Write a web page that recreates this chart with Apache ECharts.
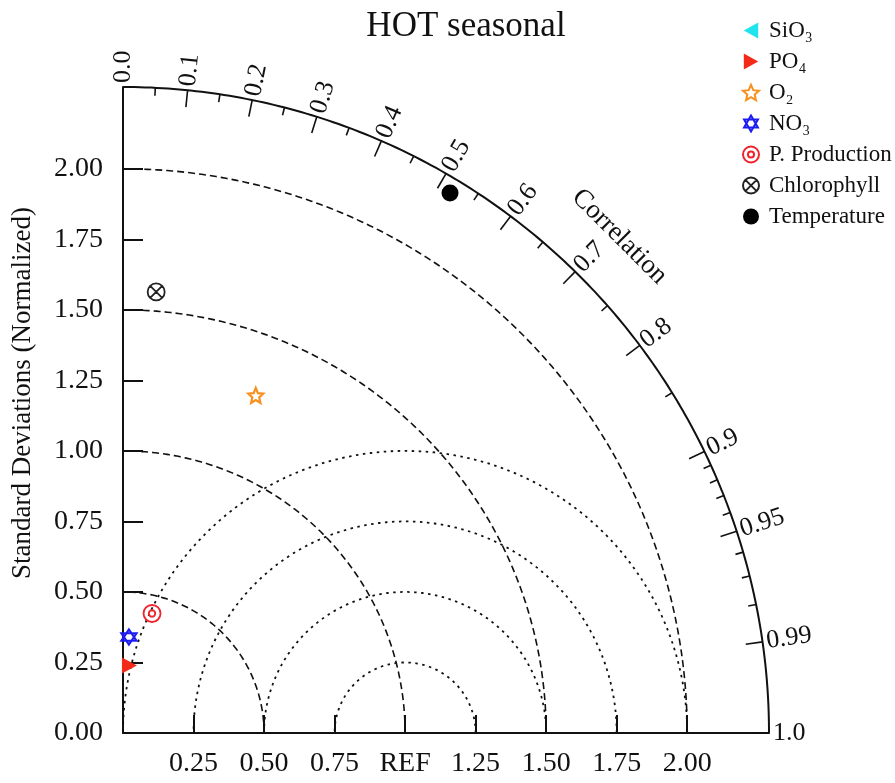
<!DOCTYPE html>
<html>
<head>
<meta charset="utf-8">
<title>HOT seasonal</title>
<script src="https://cdn.jsdelivr.net/npm/echarts@6/dist/echarts.min.js"></script>
<style>
  html, body { margin: 0; padding: 0; background: #fff; }
  #chart { width: 895px; height: 783px; }
</style>
</head>
<body>
<div id="chart"></div>
<script>
// Taylor diagram data (std normalised to REF = 1)
var RMAX = 2.29;
var refStd = 1.0;
var seriesNames = ['SiO\u2083', 'PO\u2084', 'O\u2082', 'NO\u2083', 'P. Production', 'Chlorophyll', 'Temperature'];
var stdDev = [null, 0.24, 1.286, 0.341, 0.436, 1.568, 2.238];
var correlation = [null, 0.095, 0.366, 0.062, 0.236, 0.075, 0.518];

var stdTicks = [0, 0.25, 0.5, 0.75, 1.0, 1.25, 1.5, 1.75, 2.0];
var stdArcs = [0.5, 1.0, 1.5, 2.0];
var rmsArcs = [0.25, 0.5, 0.75, 1.0];
var corrMajor = [0, 0.1, 0.2, 0.3, 0.4, 0.5, 0.6, 0.7, 0.8, 0.9, 0.95, 0.99, 1.0];
var corrMajorLabels = ['0.0', '0.1', '0.2', '0.3', '0.4', '0.5', '0.6', '0.7', '0.8', '0.9', '0.95', '0.99', '1.0'];
var corrMinor = [0.05, 0.15, 0.25, 0.35, 0.45, 0.55, 0.65, 0.75, 0.85, 0.91, 0.92, 0.93, 0.94, 0.96, 0.97, 0.98];

var GRID = { left: 123, top: 87, size: 646 };
var FONT = '"Liberation Serif", "Times New Roman", serif';
var INK = '#111';

// symbols
function starPath(n, ro, ri) {
    var s = '';
    for (var i = 0; i < n * 2; i++) {
        var r = i % 2 ? ri : ro;
        var a = -Math.PI / 2 + i * Math.PI / n;
        s += (i ? 'L' : 'M') + (r * Math.cos(a)).toFixed(2) + ',' + (r * Math.sin(a)).toFixed(2);
    }
    return s + 'Z';
}
var triLeft = 'path://M0,5L9,0L9,10Z';
var triRight = 'path://M0,0L9,5L0,10Z';
var ringDot = 'path://M10,0A10,10 0 1,1 -10,0A10,10 0 1,1 10,0Z M3.8,0A3.8,3.8 0 1,1 -3.8,0A3.8,3.8 0 1,1 3.8,0Z';
var ringX = 'path://M10,0A10,10 0 1,1 -10,0A10,10 0 1,1 10,0Z M-7.07,-7.07L7.07,7.07 M-7.07,7.07L7.07,-7.07';
var hexagram = 'path://M0,-10L8.66,5L-8.66,5Z M0,10L8.66,-5L-8.66,-5Z';

var markStyle = [
    { symbol: triLeft, size: [15, 16], color: '#1fe4ee' },
    { symbol: triRight, size: [15, 16], color: '#f42a18' },
    { symbol: 'path://' + starPath(5, 10, 4.6), size: 15, color: 'rgba(0,0,0,0)', border: '#f7901e', bw: 2.2 },
    { symbol: hexagram, size: 15, color: 'rgba(0,0,0,0)', border: '#1c1cf2', bw: 2.2 },
    { symbol: ringDot, size: 17, color: 'rgba(0,0,0,0)', border: '#f0222c', bw: 1.8 },
    { symbol: ringX, size: 17, color: 'rgba(0,0,0,0)', border: '#222', bw: 1.8 },
    { symbol: 'circle', size: 17, color: '#000' }
];

function arcPoints(cx, r, from, to) {
    var pts = [];
    for (var i = 0; i <= 180; i++) {
        var a = from + (to - from) * i / 180;
        pts.push([cx + r * Math.cos(a), r * Math.sin(a)]);
    }
    return pts;
}

function lineSeries(data, type, width) {
    return {
        type: 'line', data: data, showSymbol: false, silent: true,
        lineStyle: { color: INK, width: width, type: type }, z: 1
    };
}

function corrTicks(len, labels) {
    return function (params, api) {
        var c = api.value(0);
        var o = api.coord([0, 0]);
        var r = api.coord([RMAX, 0])[0] - o[0];
        var t = Math.acos(c);
        var cs = Math.cos(t), sn = Math.sin(t);
        var kids = [{
            type: 'line',
            shape: { x1: o[0] + (r - len) * cs, y1: o[1] - (r - len) * sn, x2: o[0] + r * cs, y2: o[1] - r * sn },
            style: { stroke: INK, lineWidth: 1.6 }
        }];
        if (labels) {
            kids.push({
                type: 'text', x: o[0] + (r + 4) * cs, y: o[1] - (r + 4) * sn, rotation: t,
                style: { text: labels[params.dataIndex], align: 'left', verticalAlign: 'middle', fontSize: 26, fontFamily: FONT, fill: INK }
            });
        }
        return { type: 'group', children: kids };
    };
}

var series = [];
stdArcs.forEach(function (r) { series.push(lineSeries(arcPoints(0, r, 0, Math.PI / 2), [7, 4], 1.6)); });
rmsArcs.forEach(function (r) { series.push(lineSeries(arcPoints(refStd, r, 0, Math.PI), [2.5, 4.5], 1.8)); });
series.push(lineSeries(arcPoints(0, RMAX, 0, Math.PI / 2), 'solid', 2));
series.push({
    type: 'custom', silent: true, clip: false, z: 3,
    data: corrMajor.map(function (c) { return [c, 0]; }),
    renderItem: corrTicks(17, corrMajorLabels)
});
series.push({
    type: 'custom', silent: true, clip: false, z: 3,
    data: corrMinor.map(function (c) { return [c, 0]; }),
    renderItem: corrTicks(8, null)
});

seriesNames.forEach(function (name, i) {
    var m = markStyle[i];
    var pts = [];
    if (stdDev[i] != null) {
        var c = correlation[i];
        pts.push([stdDev[i] * c, stdDev[i] * Math.sqrt(1 - c * c)]);
    }
    series.push({
        type: 'scatter', name: name, data: pts, z: 5,
        symbol: m.symbol, symbolSize: m.size,
        itemStyle: { color: m.color, borderColor: m.border || m.color, borderWidth: m.bw || 0, opacity: 1 }
    });
});

function axisLabelFmt(isX) {
    return function (v) {
        if (isX && v === 0) return '';
        if (isX && v === refStd) return 'REF';
        return v.toFixed(2);
    };
}

function stdAxis(isX) {
    return {
        type: 'value', min: 0, max: RMAX,
        axisLine: { lineStyle: { color: INK, width: 2 } },
        axisTick: { inside: true, length: isX ? 18 : 20, customValues: stdTicks, lineStyle: { color: INK, width: 2 } },
        axisLabel: { margin: isX ? 17 : 20, fontFamily: FONT, fontSize: 28, color: INK, customValues: stdTicks, formatter: axisLabelFmt(isX) },
        splitLine: { show: false }
    };
}

var yAxis = stdAxis(false);
yAxis.name = 'Standard Deviations (Normalized)';
yAxis.nameLocation = 'middle';
yAxis.nameRotate = 90;
yAxis.nameGap = 87;
yAxis.nameTextStyle = { fontFamily: FONT, fontSize: 27, color: INK, padding: [0, 0, 0, 34] };

var chart = echarts.init(document.getElementById('chart'));
chart.setOption({
    animation: false,
    backgroundColor: '#fff',
    title: {
        text: 'HOT seasonal', left: 461, top: 4, textAlign: 'center',
        textStyle: { fontFamily: FONT, fontSize: 35, fontWeight: 'normal', color: INK }
    },
    legend: {
        orient: 'vertical', left: 737, top: 14,
        itemWidth: 16, itemHeight: 16, itemGap: 8,
        data: seriesNames,
        textStyle: { fontFamily: FONT, fontSize: 23, color: INK, lineHeight: 22, padding: [0, 0, 0, 5] }
    },
    grid: { left: GRID.left, top: GRID.top, width: GRID.size, height: GRID.size },
    xAxis: stdAxis(true),
    yAxis: yAxis,
    graphic: [{
        type: 'text',
        x: GRID.left + (GRID.size + 56) * Math.cos(Math.PI / 4),
        y: GRID.top + GRID.size - (GRID.size + 56) * Math.sin(Math.PI / 4),
        rotation: -Math.PI / 4,
        style: { text: 'Correlation', align: 'center', verticalAlign: 'middle', fontFamily: FONT, fontSize: 27, fill: INK }
    }],
    series: series
});
</script>
</body>
</html>
